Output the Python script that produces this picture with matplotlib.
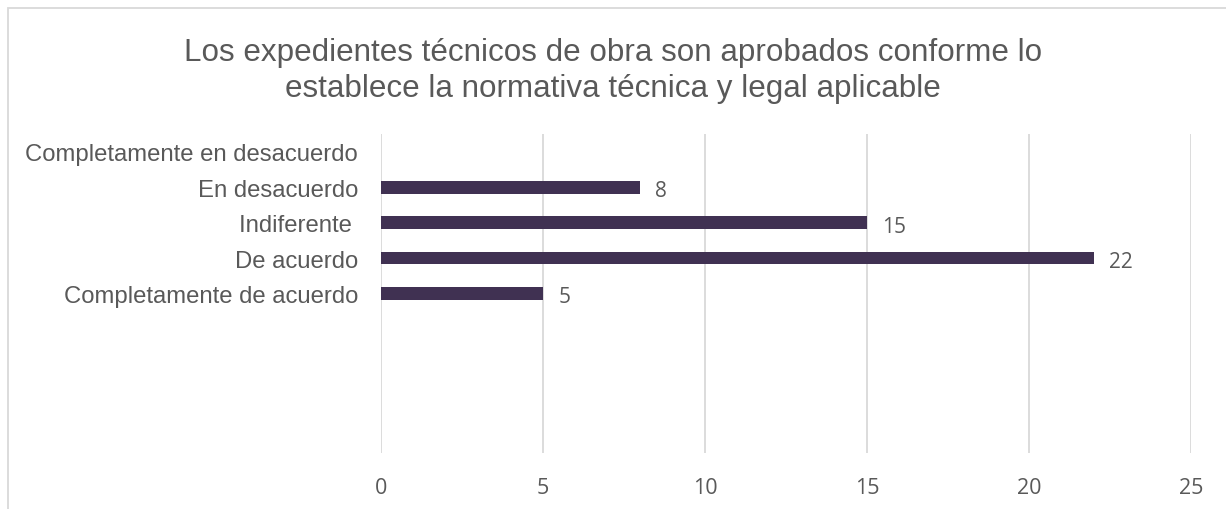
import numpy as np
import matplotlib
matplotlib.use("Agg")
import matplotlib.pyplot as plt
from matplotlib.patches import Rectangle

title_lines = ["Los expedientes técnicos de obra son aprobados conforme lo",
               "establece la normativa técnica y legal aplicable"]
categories = ["Completamente en desacuerdo", "En desacuerdo", "Indiferente ",
              "De acuerdo", "Completamente de acuerdo", "", "", "", ""]
values = [np.nan, 8, 15, 22, 5, np.nan, np.nan, np.nan, np.nan]
xticks = [0, 5, 10, 15, 20, 25]

bar_color = "#403152"
text_color = "#595959"
grid_color = "#D9D9D9"

W, H = 1226, 510
fig = plt.figure(figsize=(W / 100, H / 100), dpi=100)
fig.patch.set_facecolor("white")

# chart border (extends beyond right/bottom edges)
fig.patches.append(Rectangle((8 / W, -0.2), 1.2, 1.2 - 8.5 / H,
                             transform=fig.transFigure, fill=False,
                             edgecolor=grid_color, lw=1.3))

ax = fig.add_axes([381 / W, 1 - 454 / H, (1190.7 - 381) / W, (454 - 135) / H])
y = np.arange(len(categories))
vals = np.array(values, dtype=float)
ax.barh(y, np.nan_to_num(vals), height=0.36, color=bar_color, zorder=3)

for yi, v in zip(y, vals):
    if not np.isnan(v):
        ax.annotate(f"{int(v)}", (v, yi), xytext=(11, -2.5),
                    textcoords="offset points", ha="left", va="center",
                    fontsize=15, color=text_color, family="Open Sans")

ax.set_xlim(0, 25)
ax.set_ylim(len(categories) - 0.5, -0.5)
ax.set_xticks(xticks)
ax.set_xticklabels([str(t) for t in xticks], family="Open Sans", fontsize=15.5,
                   color=text_color)
ax.set_yticks(y)
ax.set_yticklabels(categories, family="Liberation Sans", fontsize=17.2,
                   color=text_color)
ax.tick_params(axis="x", length=0, pad=17)
ax.tick_params(axis="y", length=0, pad=16.5)
ax.grid(axis="x", color=grid_color, lw=1.3, zorder=0)
ax.set_axisbelow(True)
for s in ax.spines.values():
    s.set_visible(False)

fig.text(0.5, 1 - 61 / H, title_lines[0], ha="center", va="baseline",
         family="Liberation Sans", fontsize=22.6, color=text_color)
fig.text(0.5, 1 - 96.5 / H, title_lines[1], ha="center", va="baseline",
         family="Liberation Sans", fontsize=22.6, color=text_color)

fig.savefig("out.png", dpi=100, facecolor="white")
